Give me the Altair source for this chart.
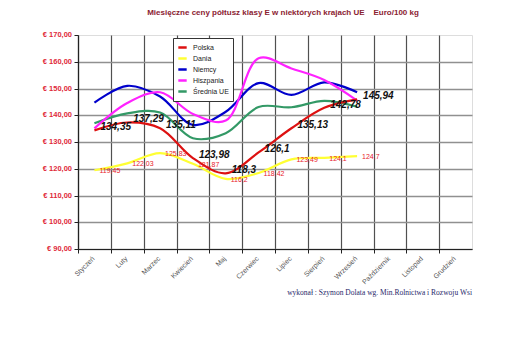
import altair as alt
import pandas as pd

months = ["Styczeń", "Luty", "Marzec", "Kwiecień", "Maj", "Czerwiec", "Lipiec",
          "Sierpień", "Wrzesień", "Październik", "Listopad", "Grudzień"]
series_names = ["Polska", "Dania", "Niemcy", "Hiszpania", "Średnia UE"]
series_colors = ["#dd1111", "#ffff33", "#0000cc", "#ff22ff", "#339966"]

polska = [134.35, 137.29, 135.11, 123.98, 118.3, 126.1, 135.13, 142.78, 145.94]
dania = [119.45, 122.03, 125.83, 121.87, 116.2, 118.42, 123.49, 124.1, 124.7]
niemcy = [144.7, 151.0, 147.0, 136.4, 141.3, 152.0, 147.6, 152.3, 148.6]
hiszpania = [135.1, 144.6, 148.6, 140.5, 138.0, 161.3, 157.5, 153.2, 145.5]
srednia = [137.0, 140.7, 141.0, 131.4, 133.3, 143.1, 143.0, 145.4, 143.2]

polska_labels = ["134,35", "137,29", "135,11", "123,98", "118,3", "126,1", "135,13", "142,78", "145,94"]
dania_labels = ["119,45", "122,03", "125,83", "121,87", "116,2", "118,42", "123,49", "124,1", "124,7"]

y_ticks = [90, 100, 110, 120, 130, 140, 150, 160, 170]

title_text = "Miesięczne ceny półtusz klasy E w niektórych krajach UE\u00a0\u00a0\u00a0\u00a0Euro/100 kg"
footer_text = "wykonał : Szymon Dolata wg. Min.Rolnictwa i Rozwoju Wsi"

rows = []
for name, vals in zip(series_names, [polska, dania, niemcy, hiszpania, srednia]):
    for i, v in enumerate(vals):
        rows.append({"series": name, "xpos": i + 0.5, "value": v})
df = pd.DataFrame(rows)

pl_df = pd.DataFrame({"xpos": [i + 0.5 for i in range(len(polska))], "value": polska, "label": polska_labels})
da_df = pd.DataFrame({"xpos": [i + 0.5 for i in range(len(dania))], "value": dania, "label": dania_labels})
month_df = pd.DataFrame({"xpos": [i + 0.5 for i in range(len(months))], "month": months})
ylab_df = pd.DataFrame({"value": y_ticks})

W, H = 394, 214

x_scale = alt.Scale(domain=[0, 12], nice=False, zero=False)
y_scale = alt.Scale(domain=[90, 170], nice=False, zero=False)

x_axis = alt.Axis(values=list(range(12)), labels=False, title=None, grid=True,
                  gridColor="#505050", gridWidth=1.2, tickSize=4, tickColor="#222",
                  domainColor="#222", domainWidth=1.2)
y_axis = alt.Axis(values=y_ticks, title=None, grid=True,
                  gridColor=alt.condition("datum.value == 170", alt.value("transparent"), alt.value("#909090")),
                  gridWidth=1.5, tickSize=4, tickColor="#222", domainColor="#222", domainWidth=1.2,
                  labels=False)

color = alt.Color("series:N",
                  scale=alt.Scale(domain=series_names, range=series_colors),
                  legend=alt.Legend(title=None, orient="none", legendX=95, legendY=3,
                                    symbolType="stroke", symbolStrokeWidth=2.5, symbolSize=70,
                                    labelFontSize=7, labelFont="Liberation Sans", labelColor="#222",
                                    strokeColor="#333", fillColor="white", padding=4,
                                    rowPadding=0, labelOffset=5))

X = alt.X("xpos:Q", scale=x_scale, axis=x_axis)
Y = alt.Y("value:Q", scale=y_scale, axis=y_axis)

layers = []
for name in ["Średnia UE", "Niemcy", "Hiszpania", "Dania", "Polska"]:
    layers.append(
        alt.Chart(df).transform_filter(alt.datum.series == name)
        .mark_line(interpolate="catmull-rom", strokeWidth=2.2)
        .encode(x=X, y=Y, color=color)
    )

pl_text = alt.Chart(pl_df).mark_text(align="left", baseline="middle", dx=6, dy=-3,
                                      fontSize=10, fontWeight="bold", fontStyle="italic",
                                      font="Liberation Sans", color="#111").encode(
    x=X, y=Y, text="label:N")

da_text = alt.Chart(da_df).mark_text(align="left", baseline="middle", dx=5, dy=1,
                                      fontSize=7, font="Liberation Sans", color="#e8202a").encode(
    x=X, y=Y, text="label:N")

month_text = alt.Chart(month_df).mark_text(align="right", baseline="middle", angle=315, dx=-1,
                                            fontSize=7, font="Liberation Sans", color="#555").encode(
    x=X, y=alt.value(H + 8), text="month:N")

ylab_text = alt.Chart(ylab_df).transform_calculate(
    lab="'€ ' + replace(format(datum.value, '.2f'), '.', ',')"
).mark_text(align="right", baseline="middle", dx=-6, fontSize=7.5, fontWeight="bold",
            font="Liberation Sans", color="#e02a3a").encode(
    x=alt.value(0), y=Y, text="lab:N")

footer = alt.Chart(pd.DataFrame({"t": [footer_text]})).mark_text(
    align="right", baseline="middle", fontSize=7.5, font="Liberation Serif", color="#28286a").encode(
    x=alt.value(W), y=alt.value(H + 44), text="t:N")

chart = alt.layer(*layers, da_text, pl_text, month_text, ylab_text, footer).properties(
    width=W, height=H,
    title=alt.TitleParams(title_text, fontSize=8, fontWeight="bold", font="Liberation Sans",
                          color="#8b2232", anchor="middle", dx=8, offset=14),
    autosize=alt.AutoSizeParams(type="none"),
    padding={"left": 78, "top": 35, "right": 48, "bottom": 105},
).configure_view(stroke=None).configure(background="white")

chart.save("out.html", embed_options={"renderer": "svg", "actions": False})
